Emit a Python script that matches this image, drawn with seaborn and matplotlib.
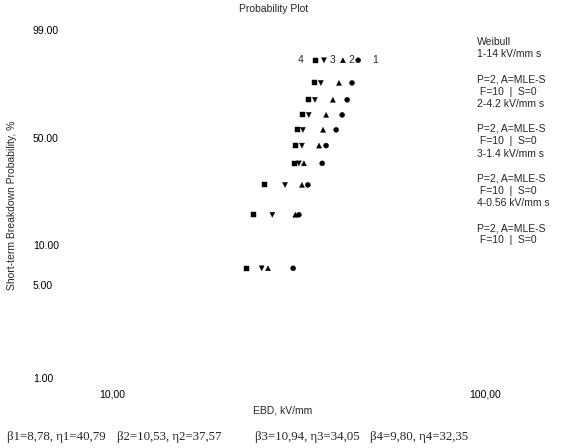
import numpy as np
import pandas as pd
import matplotlib
matplotlib.use("Agg")
import matplotlib.pyplot as plt
import seaborn as sns

# ── Data ─────────────────────────────────────────────────────────────────────
# median-rank probabilities (%) of the 10 failures in each group
prob = [6.7, 16.3, 26.0, 35.6, 45.2, 54.8, 64.4, 74.0, 83.7, 93.3]

ebd_1 = [30.6, 31.7, 33.5, 36.6, 37.5, 39.9, 41.4, 42.7, 44.0, 45.7]
ebd_2 = [26.2, 31.0, 32.3, 32.7, 35.9, 36.8, 37.5, 39.1, 40.6, 41.6]
ebd_3 = [25.2, 26.9, 29.1, 31.7, 32.3, 32.5, 33.7, 35.0, 36.3, 37.0]
ebd_4 = [23.0, 23.9, 25.6, 30.8, 31.1, 31.5, 32.5, 33.7, 34.8, 35.2]

series_names = ["1", "2", "3", "4"]
y_ticks = [1, 5, 10, 50, 99]
y_tick_labels = ["1.00", "5.00", "10.00", "50.00", "99.00"]
x_ticks = [10, 100]
x_tick_labels = ["10,00", "100,00"]
fit_params = ["β1=8,78, η1=40,79", "β2=10,53, η2=37,57",
              "β3=10,94, η3=34,05", "β4=9,80, η4=32,35"]

df = pd.DataFrame({
    "ebd": ebd_1 + ebd_2 + ebd_3 + ebd_4,
    "prob": prob * 4,
    "series": [s for s in series_names for _ in prob],
})

MARKERS = {"1": "o", "2": "^", "3": "v", "4": "s"}
SANS = ["Liberation Sans", "DejaVu Sans"]
SERIF = ["Liberation Serif", "DejaVu Serif"]


def weib_fwd(p):
    p = np.clip(np.asarray(p, dtype=float), 1e-6, 100 - 1e-6)
    return np.log(-np.log(1 - p / 100))


def weib_inv(z):
    return 100 * (1 - np.exp(-np.exp(np.asarray(z, dtype=float))))


# ── Figure ───────────────────────────────────────────────────────────────────
sns.set_style("white")
plt.rcParams["font.family"] = SANS

W, H = 573, 448
fig = plt.figure(figsize=(W / 100, H / 100), dpi=100)
fig.patch.set_facecolor("white")
ax = fig.add_axes([112 / W, 1 - 378 / H, (485 - 112) / W, (378 - 30) / H])

sns.scatterplot(
    data=df, x="ebd", y="prob", style="series", markers=MARKERS,
    color="black", s=13, edgecolor="black", linewidth=0.3,
    legend=False, ax=ax,
)

ax.set_xscale("log")
ax.set_yscale("function", functions=(weib_fwd, weib_inv))
ax.set_xlim(10, 100)
ax.set_ylim(1, 99)

ax.set_xticks(x_ticks)
ax.set_xticklabels(x_tick_labels)
ax.set_xticks([], minor=True)
ax.set_yticks(y_ticks)
ax.set_yticklabels(y_tick_labels)
ax.set_yticks([], minor=True)
ax.tick_params(axis="both", length=0, labelsize=7.5, colors="black")
ax.tick_params(axis="y", pad=57)
ax.tick_params(axis="x", pad=8)
for lab in ax.get_yticklabels():
    lab.set_horizontalalignment("left")
ax.set_xlabel("")
ax.set_ylabel("")
for sp in ax.spines.values():
    sp.set_visible(False)

# series labels next to the top point of each group
top_labels = [("1", ebd_1, 12), ("2", ebd_2, 6), ("3", ebd_3, 6), ("4", ebd_4, -11)]
for name, vals, dx in top_labels:
    ax.annotate(name, (vals[-1], prob[-1]), xytext=(dx, 0), textcoords="offset points",
                ha="center", va="center", fontsize=7.5)

# ── Texts ────────────────────────────────────────────────────────────────────
fig.text(274 / W, 1 - 9 / H, "Probability Plot", ha="center", va="center", fontsize=7.5)
fig.text(283 / W, 1 - 410 / H, "EBD, kV/mm", ha="center", va="center", fontsize=7.5)
fig.text(12 / W, 1 - 205 / H, "Short-term Breakdown Probability, %", rotation=90,
         ha="center", va="center", fontsize=7.5)

side = "\n".join([
    "Weibull",
    "1-14 kV/mm s",
    "",
    "P=2, A=MLE-S",
    " F=10  |  S=0",
    "2-4.2 kV/mm s",
    "",
    "P=2, A=MLE-S",
    " F=10  |  S=0",
    "3-1.4 kV/mm s",
    "",
    "P=2, A=MLE-S",
    " F=10  |  S=0",
    "4-0.56 kV/mm s",
    "",
    "P=2, A=MLE-S",
    " F=10  |  S=0",
])
fig.text(477 / W, 1 - 37 / H, side, ha="left", va="top", fontsize=7.5, linespacing=1.3)

for x0, txt in zip([7, 117, 255, 370], fit_params):
    fig.text(x0 / W, 1 - 437 / H, txt, ha="left", va="center", fontsize=9.3, family=SERIF)

fig.savefig("out.png", dpi=100, facecolor="white")
